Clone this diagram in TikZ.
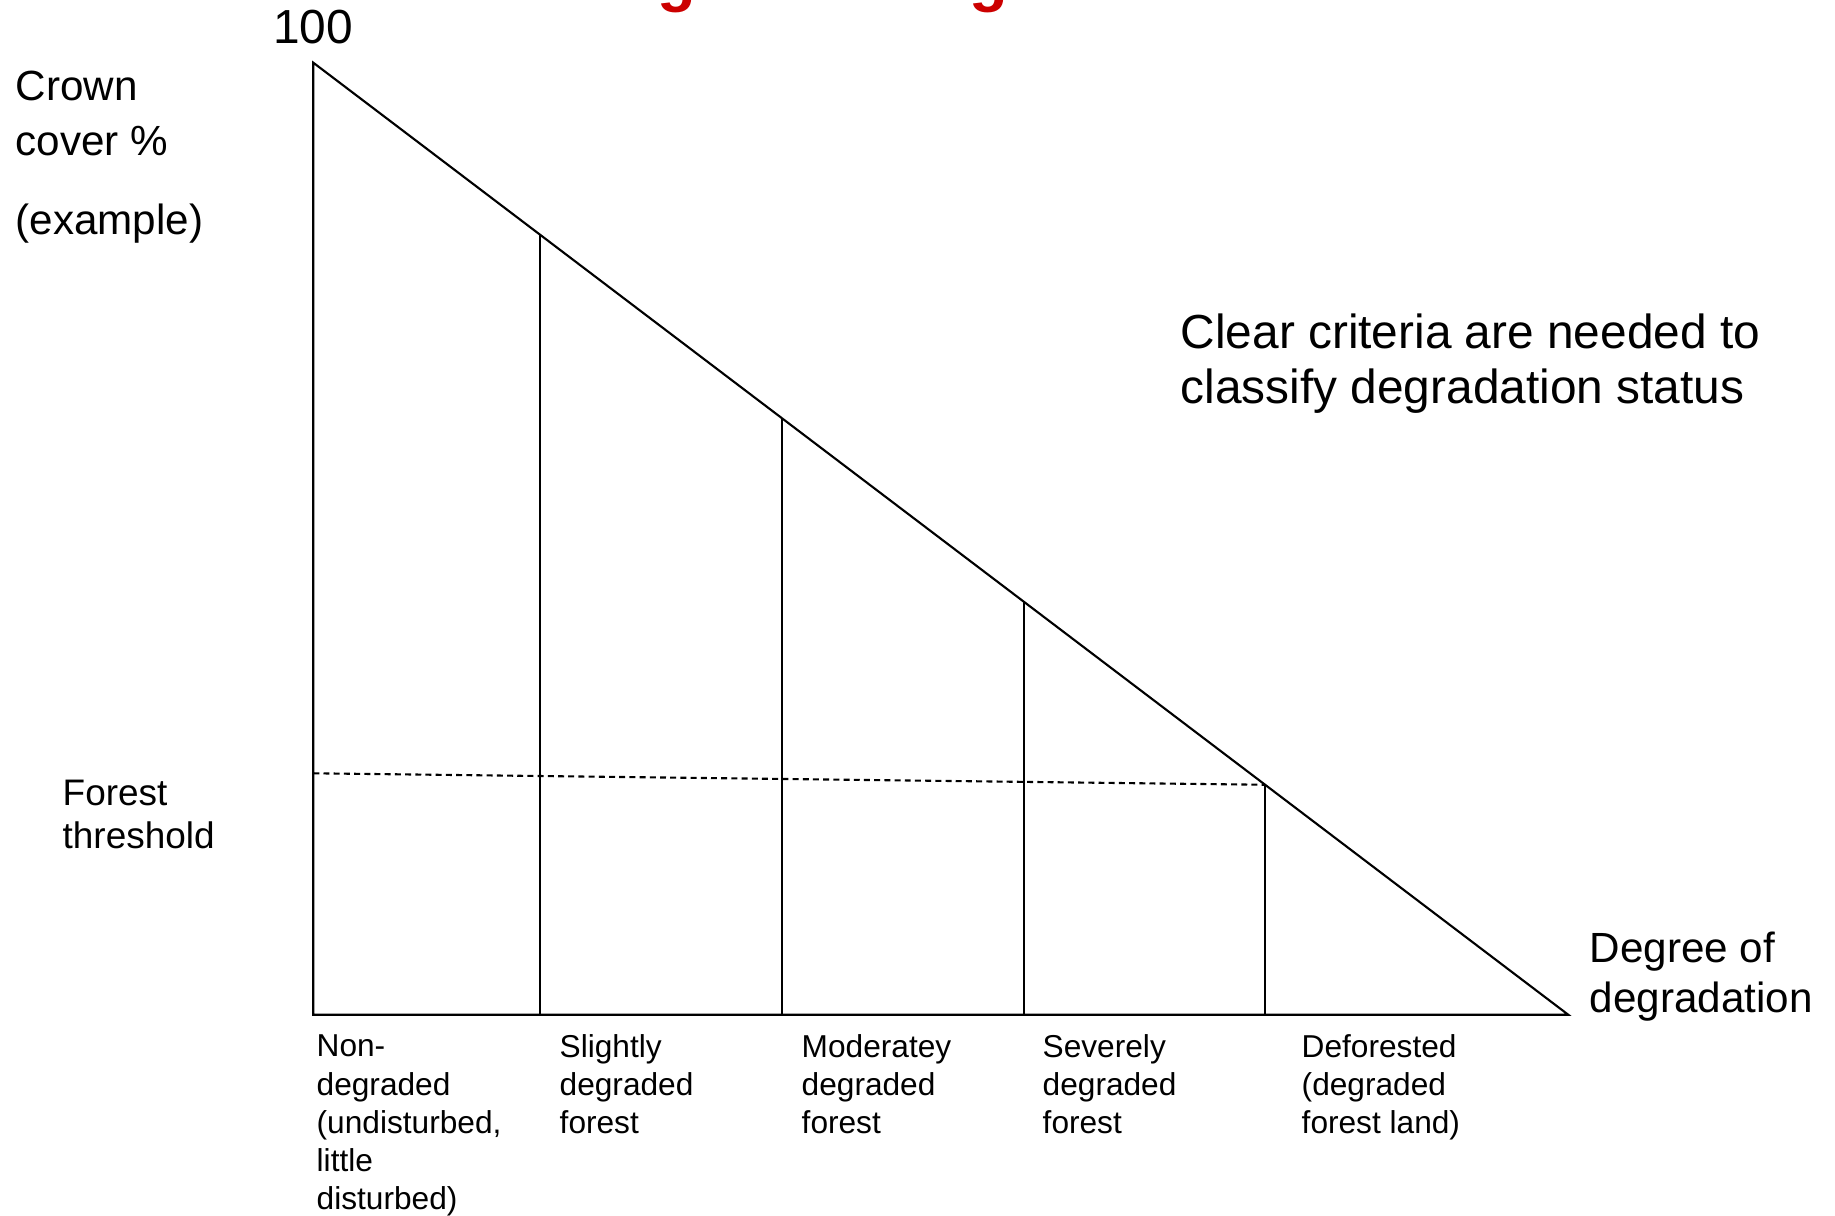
\documentclass[tikz,border=0pt]{standalone}
\usepackage{fontspec}
\setmainfont{Liberation Sans}
\usetikzlibrary{calc, positioning}
\definecolor{titleRed}{HTML}{CC0000}

\begin{document}
\begin{tikzpicture}[
    x=0.01cm, y=-0.01cm,
    edge/.style={line width=0.6pt, line join=miter},
    threshline/.style={line width=0.6pt, dash pattern=on 1.7pt off 1.2pt},
    axistext/.style={anchor=base west, inner sep=0pt, align=left,
                 font=\fontsize{12}{15.9}\selectfont},
    bigtext/.style={anchor=base west, inner sep=0pt, align=left,
                 font=\fontsize{13.6}{15.9}\selectfont},
    smalltext/.style={anchor=base west, inner sep=0pt, align=left,
                 font=\fontsize{10.5}{12.5}\selectfont},
    catlabel/.style={anchor=base west, inner sep=0pt, align=left,
                 font=\fontsize{9}{10.9}\selectfont},
    titlefrag/.style={anchor=base west, inner sep=0pt, text=titleRed,
                 font=\fontsize{18}{20}\selectfont\bfseries},
  ]
    \useasboundingbox (0,0) rectangle (1835,1216);

    % what is left of the title
    \node[titlefrag] (tg1) at (657,0) {g};
    \node[titlefrag] (tg2) at (969,0) {g};

    % the triangle
    \coordinate (top) at (313.3,62.7);
    \coordinate (origin) at (313.3,1014.7);
    \coordinate (end) at (1568.2,1014.7);
    \draw[edge] (top) -- (origin) -- (end) -- cycle;

    \foreach \t/\n in {0.1803/1, 0.3733/2, 0.5663/3, 0.7585/4}{
      \coordinate (h\n) at ($(top)!\t!(end)$);
      \draw[edge] (h\n) -- (h\n |- origin);
    }

    % forest threshold
    \coordinate (thr) at (313.3,773.3);
    \draw[threshline] (thr) -- (h4);

    % axis texts (multi-line nodes sit on their last line)
    \node[bigtext, anchor=base] (hundred) at (313,44) {100};
    \node[axistext] (crown) at (15,156) {Crown\\cover \%};
    \node[axistext] (example) at (15,235) {(example)};
    \node[smalltext] (thresh) at (62,849) {Forest\\threshold};
    \node[axistext, font=\fontsize{12}{14.5}\selectfont] (degree) at (1589,1013) {Degree of\\degradation};
    \node[bigtext] (criteria) at (1180,404) {Clear criteria are needed to\\classify degradation status};

    % categories
    \node[catlabel] (c1) at (316,1210) {Non-\\degraded\\(undisturbed,\\little\\disturbed)};
    \node[catlabel] (c2) at (559,1134) {Slightly\\degraded\\forest};
    \node[catlabel] (c3) at (801,1134) {Moderatey\\degraded\\forest};
    \node[catlabel] (c4) at (1042,1134) {Severely\\degraded\\forest};
    \node[catlabel] (c5) at (1301,1134) {Deforested\\(degraded\\forest land)};
  \end{tikzpicture}
\end{document}
